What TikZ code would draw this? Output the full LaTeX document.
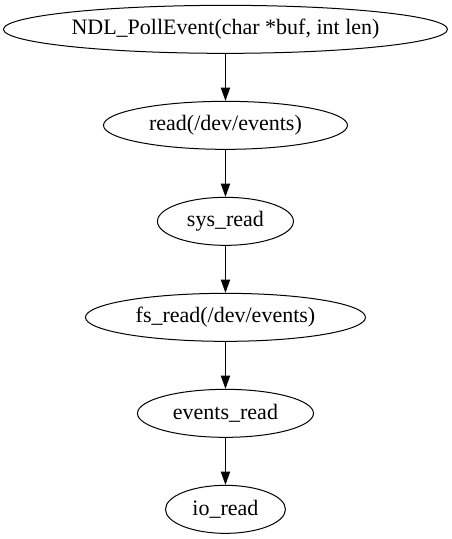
\documentclass[tikz,border=0pt]{standalone}
\usepackage{fontspec}
\setmainfont{Liberation Serif}
\usetikzlibrary{shapes.geometric, arrows.meta}

\tikzset{
    call/.style={ellipse, draw, line width=0.75pt, inner sep=0pt, minimum height=36pt, font=\fontsize{16.5pt}{18pt}\selectfont},
    flow/.style={line width=0.75pt, -{Triangle[length=10pt, width=7pt]}}
}

\begin{document}
\begin{tikzpicture}
        \useasboundingbox (0,0) rectangle (338.25pt,-404.25pt);

        % Call chain
        \node[call, minimum width=333pt] (poll) at (169.1pt,-22pt) {NDL\_PollEvent(char *buf, int len)};
        \node[call, minimum width=183pt] (read) at (169.1pt,-94pt) {read(/dev/events)};
        \node[call, minimum width=102pt] (sysread) at (169.1pt,-166pt) {sys\_read};
        \node[call, minimum width=210pt] (fsread) at (169.1pt,-238pt) {fs\_read(/dev/events)};
        \node[call, minimum width=132pt] (evread) at (169.1pt,-310pt) {events\_read};
        \node[call, minimum width=90pt] (ioread) at (169.1pt,-382pt) {io\_read};

        % Edges
        \draw[flow] (poll) -- (read);
        \draw[flow] (read) -- (sysread);
        \draw[flow] (sysread) -- (fsread);
        \draw[flow] (fsread) -- (evread);
        \draw[flow] (evread) -- (ioread);
    \end{tikzpicture}
\end{document}
